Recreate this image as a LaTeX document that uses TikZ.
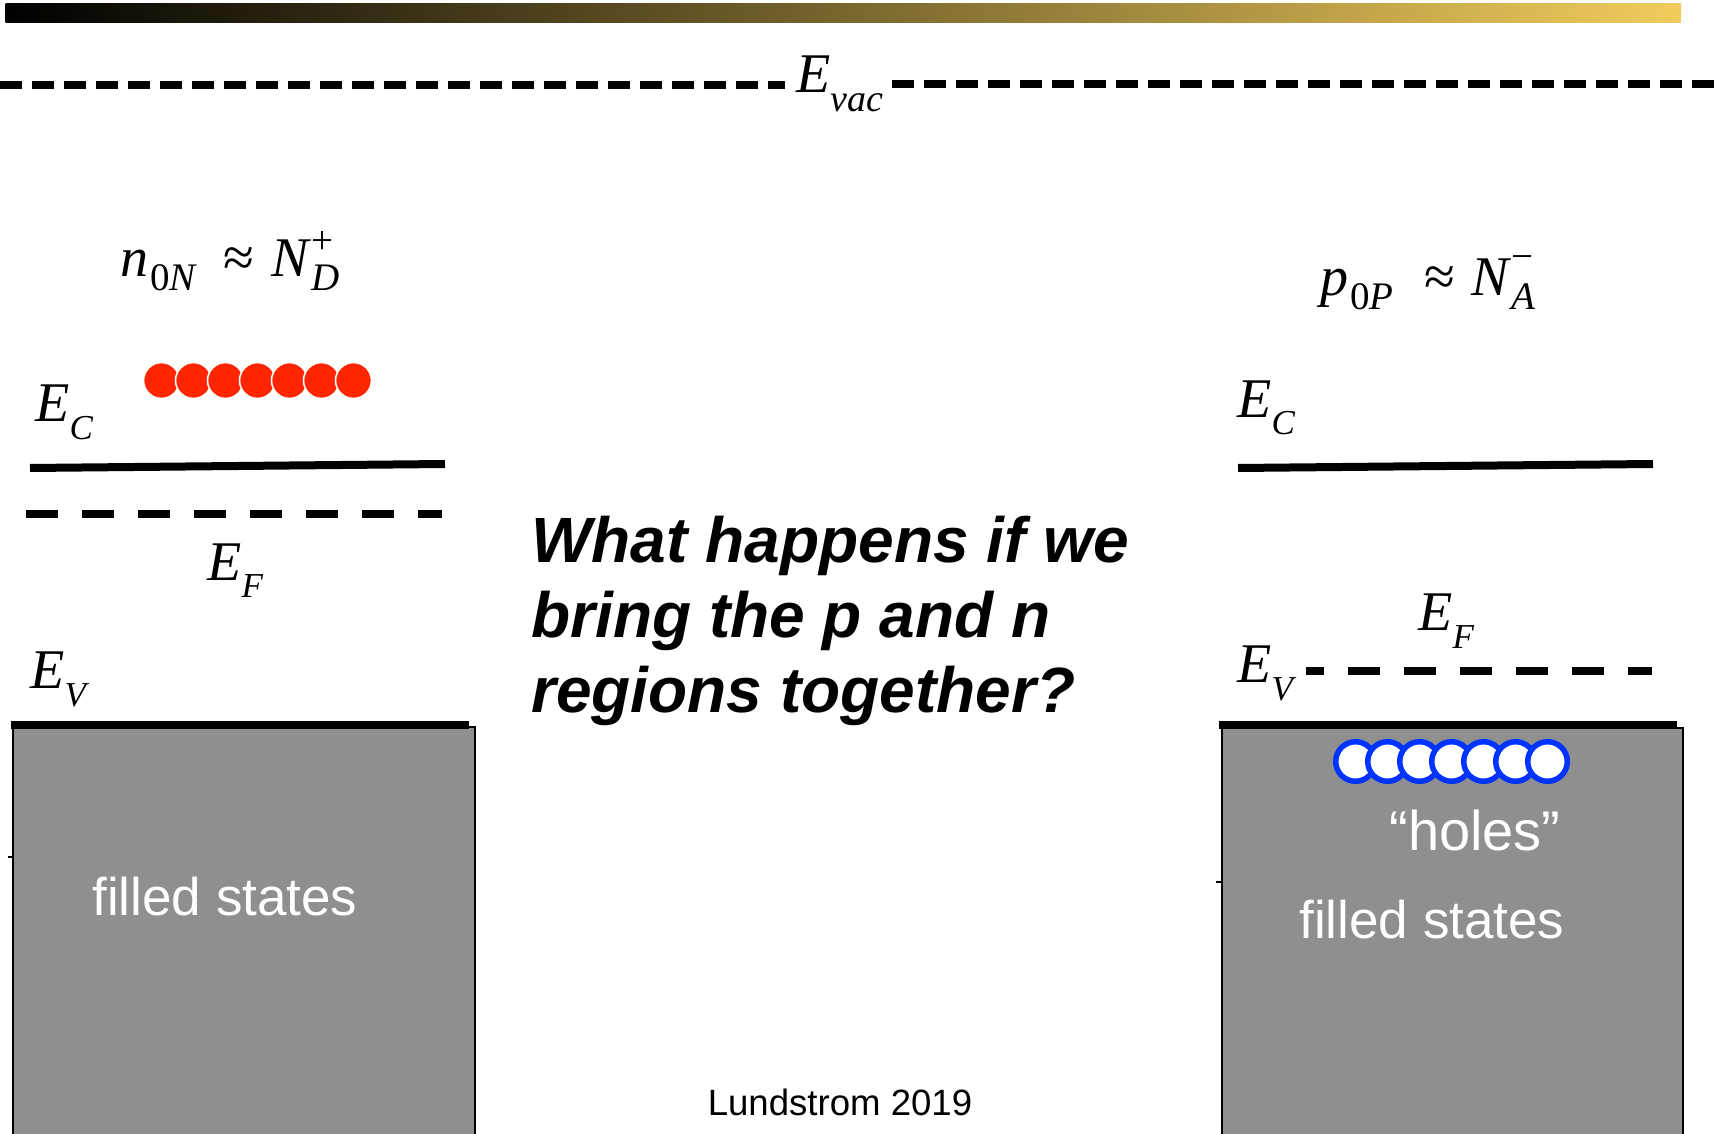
\documentclass[tikz,border=0pt]{standalone}
\usepackage{fontspec}
\setmainfont{Liberation Serif}
\newfontfamily\arialf{Liberation Sans}
\definecolor{barend}{RGB}{240,204,92}
\definecolor{elecred}{RGB}{255,38,0}
\definecolor{holeblue}{RGB}{0,51,255}
\definecolor{fillgray}{RGB}{143,143,143}
% energy level label: E with a lowered italic subscript
\newcommand\lvl[2]{\textit{#1}\raisebox{-9pt}{\fontsize{17.5}{17.5}\selectfont\textit{#2}}}
\newcommand\subsz{\fontsize{19.5}{19.5}\selectfont}
\tikzset{
  band/.style={line width=4pt},
  valence/.style={line width=3.6pt},
  levdash/.style={line width=4pt, dash pattern=on 16pt off 12pt},
  vacdash/.style={line width=4pt, dash pattern=on 11pt off 5pt},
  statebox/.style={fill=fillgray, draw=black, line width=1pt},
  lbl/.style={inner sep=0pt, anchor=base west, font=\fontsize{28}{28}\selectfont},
  boxtext/.style={inner sep=0pt, anchor=base, text=white, font=\arialf\fontsize{26.5}{26.5}\selectfont},
  question/.style={inner sep=0pt, anchor=base west, font=\arialf\bfseries\itshape\fontsize{32}{32}\selectfont},
  electron/.style={circle, fill=elecred, draw=white, line width=0.8pt, minimum size=18pt, inner sep=0pt},
  hole/.style={circle, fill=white, draw=holeblue, line width=2.75pt, minimum size=19.8pt, inner sep=0pt},
}
\begin{document}
\begin{tikzpicture}[x=0.5pt,y=-0.5pt]
\useasboundingbox (0,0) rectangle (1715,1134);
\clip (0,0) rectangle (1715,1134);

% title bar
\shade[left color=black, right color=barend] (5.5,4) rectangle (1681,23);

% vacuum level
\coordinate (vacL0) at (0,85);
\coordinate (vacL1) at (785,85);
\coordinate (vacR0) at (892,84);
\coordinate (vacR1) at (1715,84);
\draw[vacdash] (vacL0) -- (vacL1);
\draw[vacdash] (vacR0) -- (vacR1);
\node[lbl] (evac) at (796,93) {\textit{E}\raisebox{-9.5pt}{\fontsize{19}{19}\selectfont\textit{vac}}};

% ---------- n-type side ----------
\node[lbl] (neq) at (120,277) {\textit{n}\kern1pt\raisebox{-7pt}{\subsz 0\textit{N}}\hspace{13pt}≈\hspace{8.5pt}\textit{N}\rlap{\raisebox{11.5pt}{\subsz +}}\raisebox{-7pt}{\subsz\textit{D}}};

\draw[statebox] (13,727) rectangle (475,1140);
\draw[line width=0.6pt] (8,857) -- (13,857);

\coordinate (ecL0) at (30,468);
\coordinate (ecL1) at (445,464);
\draw[band] (ecL0) -- (ecL1);
\coordinate (efL0) at (26,514);
\coordinate (efL1) at (442,514);
\draw[levdash] (efL0) -- (efL1);
\coordinate (evL0) at (11,725);
\coordinate (evL1) at (469,725);
\draw[valence] (evL0) -- (evL1);

\node[lbl] (ecLlab) at (35,422) {\lvl{E}{C}};
\node[lbl] (efLlab) at (207,580) {\lvl{E}{F}};
\node[lbl] (evLlab) at (30,688) {\lvl{E}{V}};

\foreach \i in {0,...,6}
  \node[electron] (el\i) at (161.5+32*\i,380.5) {};

\node[boxtext] (fillL) at (225,915) {filled states};

% ---------- p-type side ----------
\node[lbl] (peq) at (1320,296) {\textit{p}\kern1pt\raisebox{-7pt}{\subsz 0\textit{P}}\hspace{15.5pt}≈\hspace{8pt}\textit{N}\rlap{\raisebox{13pt}{\subsz −}}\raisebox{-7pt}{\subsz\textit{A}}};

\draw[statebox] (1222,728) rectangle (1683,1140);
\draw[line width=0.6pt] (1216,882) -- (1222,882);

\coordinate (ecR0) at (1238,468);
\coordinate (ecR1) at (1653,464);
\draw[band] (ecR0) -- (ecR1);
\coordinate (efR0) at (1306,671);
\coordinate (efR1) at (1652,671);
\draw[levdash, dash phase=7pt] (efR0) -- (efR1);
\coordinate (evR0) at (1219,725);
\coordinate (evR1) at (1677,725);
\draw[valence] (evR0) -- (evR1);

\node[lbl] (ecRlab) at (1237,417) {\lvl{E}{C}};
\node[lbl] (efRlab) at (1418,630) {\lvl{E}{F}};
\node[lbl] (evRlab) at (1237,682) {\lvl{E}{V}};

\foreach \i in {0,...,6}
  \node[hole] (ho\i) at (1355.5+32*\i,761.5) {};

\node[boxtext, font=\arialf\fontsize{28}{28}\selectfont] (holes) at (1475,850) {“holes”};
\node[boxtext] (fillR) at (1432,938) {filled states};

% ---------- question ----------
\node[question] (q1) at (531,562) {What happens if we};
\node[question] (q2) at (531,637) {bring the p and n};
\node[question] (q3) at (531,712) {regions together?};

\node[inner sep=0pt, anchor=base, font=\arialf\fontsize{18.3}{18.3}\selectfont] (credit) at (840,1115) {Lundstrom 2019};
\end{tikzpicture}
\end{document}
